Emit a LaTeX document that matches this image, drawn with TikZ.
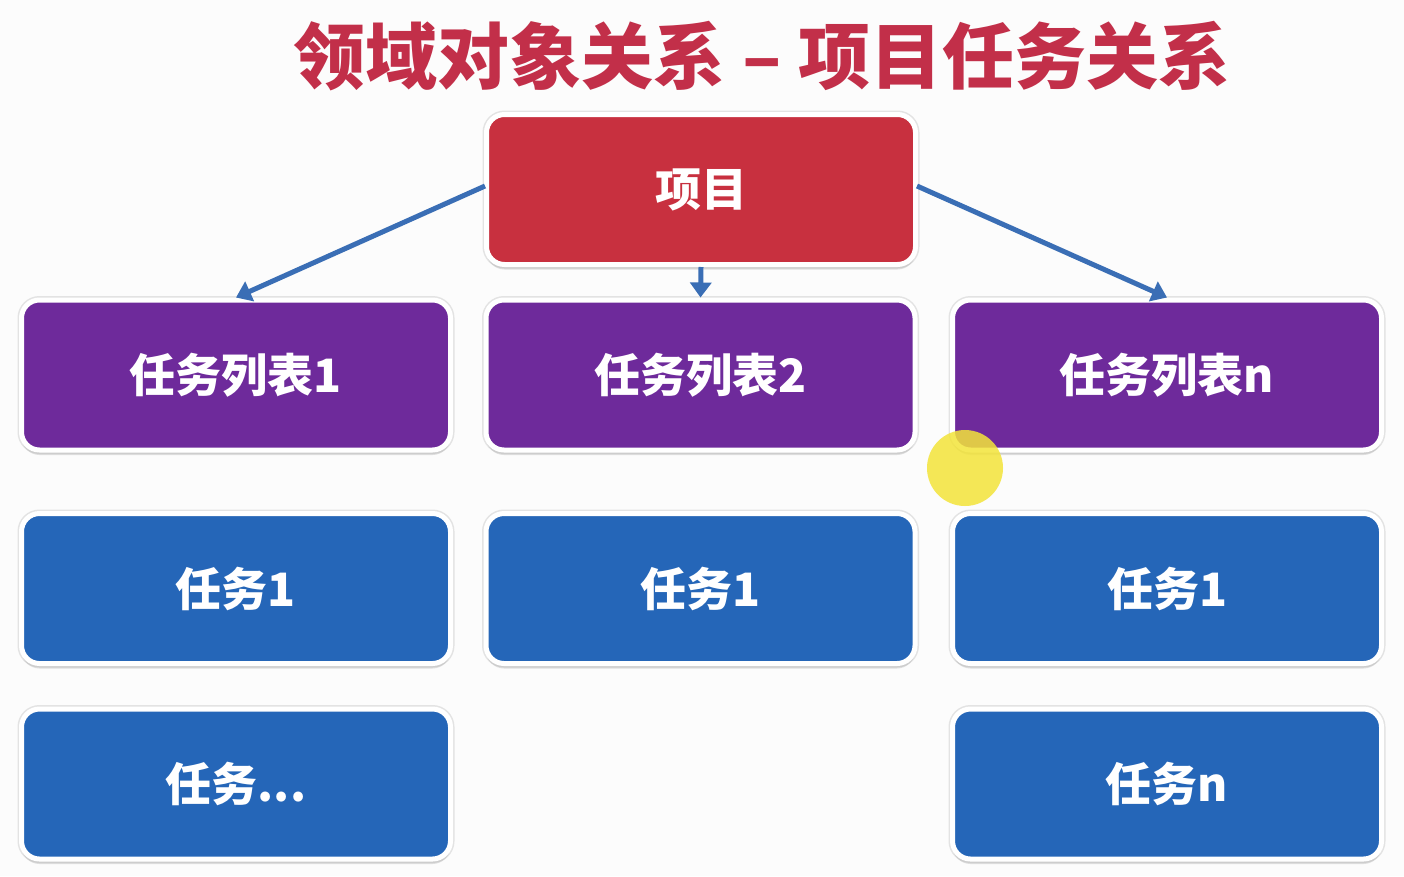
\documentclass[tikz,border=0pt]{standalone}
\usepackage{fontspec}
\setmainfont{Noto Sans CJK SC}
\usetikzlibrary{shadows,arrows.meta}
\definecolor{bgc}{HTML}{FCFCFC}
\definecolor{titlered}{HTML}{C22F49}
\definecolor{projred}{HTML}{C8303F}
\definecolor{listpurple}{HTML}{6E2A9B}
\definecolor{taskblue}{HTML}{2566B8}
\definecolor{arrowblue}{HTML}{3A6EB5}
\definecolor{cursoryellow}{HTML}{F3E43A}
\tikzset{
  box/.style={draw=white, line width=5pt, rounded corners=18pt,
    minimum width=429pt, minimum height=150pt, inner sep=0pt,
    text=white, font=\fontsize{46}{50}\selectfont\bfseries,
    preaction={draw=black!11, line width=8pt},
    drop shadow={shadow xshift=0pt, shadow yshift=-5pt, opacity=0.25, fill=black!45}},
  projbox/.style={box, fill=projred},
  listbox/.style={box, fill=listpurple},
  taskbox/.style={box, fill=taskblue},
  link/.style={draw=arrowblue, line width=5pt, -{Triangle[length=15pt,width=21pt]}},
}
\begin{document}
\begin{tikzpicture}[x=1pt,y=-1pt]
\fill[bgc] (0,0) rectangle (1404,876);
\useasboundingbox (0,0) rectangle (1404,876);
\node[text=titlered, font=\fontsize{72}{76}\selectfont\bfseries] (title) at (762,56) {领域对象关系 – 项目任务关系};
\node[projbox] (proj) at (701,189.5) {项目};
\node[listbox] (l1) at (236,375) {任务列表1};
\node[listbox] (l2) at (700.5,375) {任务列表2};
\node[listbox] (ln) at (1167,375) {任务列表n};
\node[taskbox] (t11) at (236,588.5) {任务1};
\node[taskbox] (t21) at (700.5,588.5) {任务1};
\node[taskbox] (tn1) at (1167,588.5) {任务1};
\node[taskbox] (t1x) at (236,784) {任务...};
\node[taskbox] (tnn) at (1167,784) {任务n};
\draw[link] (proj.west |- 0,186) ++(1,0) coordinate (a1) -- (l1.north);
\draw[link] (proj.south) -- (l2.north);
\draw[link] (proj.east |- 0,186) ++(-1,0) coordinate (a3) -- (ln.north);
\fill[cursoryellow, opacity=0.85] (965,468) circle (38);
\end{tikzpicture}
\end{document}
